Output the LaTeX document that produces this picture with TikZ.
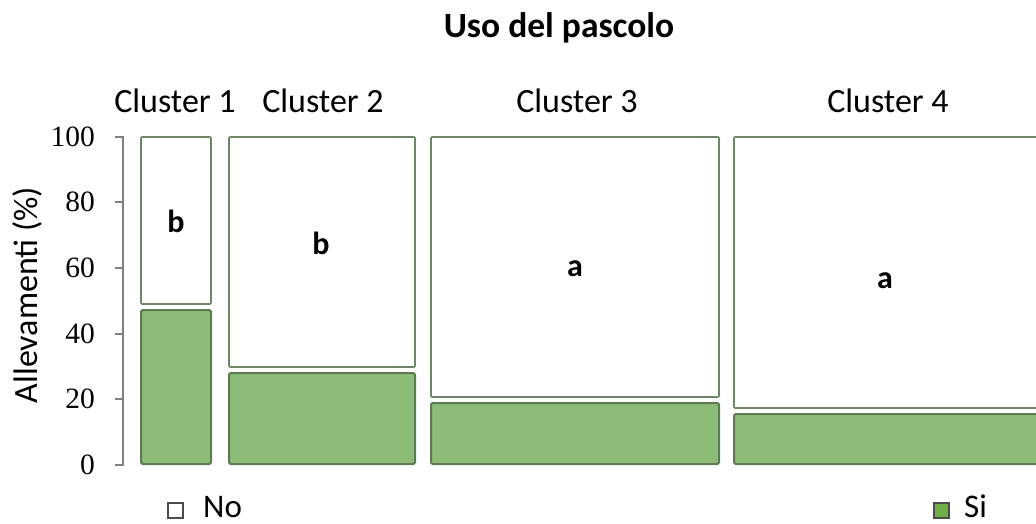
\documentclass[tikz,border=0pt]{standalone}
\usepackage{fontspec}
\setmainfont{Carlito}
\newfontfamily\numfont{Liberation Serif}
\definecolor{barfill}{RGB}{141,187,120}
\definecolor{barline}{RGB}{92,122,84}
\definecolor{boxline}{RGB}{110,135,102}
\definecolor{axisgray}{RGB}{128,128,128}
\definecolor{legfill}{RGB}{112,173,71}
\begin{document}
\begin{tikzpicture}[x=1pt,y=-1pt,
  greenbar/.style={fill=barfill,draw=barline,line width=2pt,rounded corners=2pt},
  whitebar/.style={fill=white,draw=boxline,line width=1.6pt,rounded corners=1pt},
  ticklab/.style={font=\numfont\fontsize{29.5}{32}\selectfont,anchor=east,inner sep=0pt},
  clab/.style={font=\fontsize{34}{40}\selectfont,anchor=base,inner sep=0pt},
  letlab/.style={font=\bfseries\fontsize{32}{36}\selectfont,anchor=base,inner sep=0pt},
  leglab/.style={font=\fontsize{33}{38}\selectfont,anchor=base west,inner sep=0pt}]
\useasboundingbox (0,0) rectangle (1036,524);
\clip (0,0) rectangle (1036,524);
% title
\node[font=\bfseries\fontsize{35.5}{40}\selectfont,anchor=base,inner sep=0pt] (title) at (559,38) {Uso del pascolo};
% axis
\draw[axisgray,line width=1.5pt] (115,137) -- (123,137) -- (123,465) -- (115,465);
\foreach \v/\y in {80/202,60/268,40/334,20/399}{
  \draw[axisgray,line width=1.5pt] (115,\y) -- (123,\y);
}
\foreach \v/\y in {100/137,80/202,60/268,40/334,20/399,0/465}{
  \node[ticklab] (t\v) at (95,\y) {\v};
}
\node[font=\fontsize{34}{40}\selectfont,rotate=90,anchor=base,inner sep=0pt] (ytitle) at (37,295) {Allevamenti (\%)};
% bars
\draw[whitebar] (141,137) rectangle (211,304);
\draw[greenbar] (141,310) rectangle (211,464);
\draw[whitebar] (229,137) rectangle (415,367);
\draw[greenbar] (229,373) rectangle (415,464);
\draw[whitebar] (431,137) rectangle (719,397);
\draw[greenbar] (431,403) rectangle (719,464);
\draw[whitebar] (734,137) rectangle (1045,408);
\draw[greenbar] (734,414) rectangle (1045,464);
% cluster labels
\node[clab] (c1) at (175,113) {Cluster 1};
\node[clab] (c2) at (323,113) {Cluster 2};
\node[clab] (c3) at (577,113) {Cluster 3};
\node[clab] (c4) at (888,113) {Cluster 4};
% letters
\node[letlab] (l1) at (176,232) {b};
\node[letlab] (l2) at (321,254) {b};
\node[letlab] (l3) at (575,276) {a};
\node[letlab] (l4) at (885,288) {a};
% legend
\draw[draw=black!70,line width=1.2pt,fill=white] (168,503) rectangle (183,518);
\node[leglab] (lno) at (203,517) {No};
\draw[draw=black!70,line width=1.2pt,fill=legfill] (934,503) rectangle (949,518);
\node[leglab] (lsi) at (964,517) {Si};
\end{tikzpicture}
\end{document}
